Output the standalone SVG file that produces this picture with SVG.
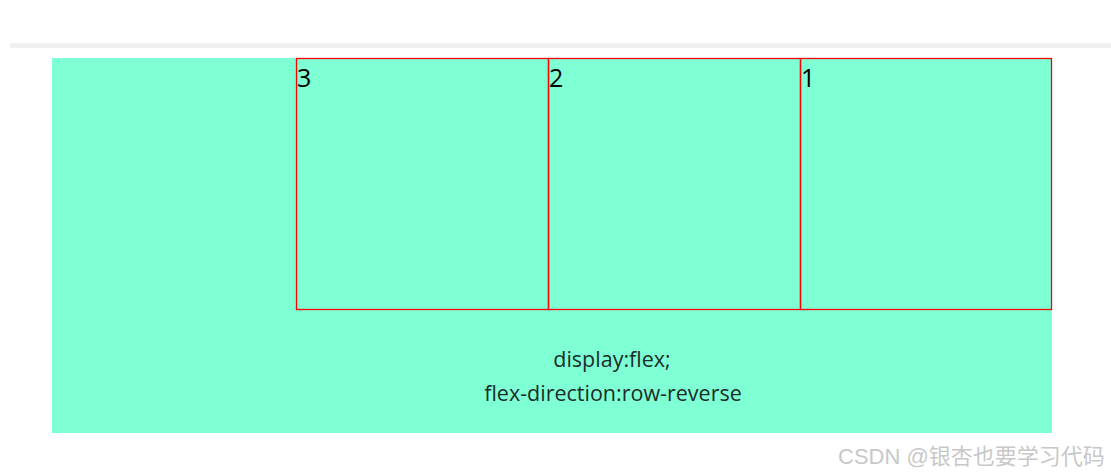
<svg xmlns="http://www.w3.org/2000/svg" width="1111" height="475" viewBox="0 0 1111 475">
<style>
.item{fill:none;stroke:#ff0000;stroke-width:1.3}
.num{font-family:"Open Sans","Noto Sans","DejaVu Sans",sans-serif;font-size:25px;fill:#000}
.label{font-family:"Open Sans","Noto Sans","DejaVu Sans",sans-serif;font-size:21.5px;fill:#1c2e28;text-anchor:middle}
.wm{font-family:"Liberation Sans","Noto Sans CJK SC",sans-serif;font-size:22px;fill:#c8c8c8}
</style>
<rect x="0" y="0" width="1111" height="475" fill="#ffffff"/>
<rect x="10" y="43" width="1101" height="5" fill="#f0f0f0"/>
<g id="container">
<rect x="52" y="58" width="1000" height="375" fill="#7fffd4"/>
</g>
<g id="item3">
<rect class="item" x="296.5" y="58.5" width="252" height="251"/>
<text class="num" x="297" y="87">3</text>
</g>
<g id="item2">
<rect class="item" x="548.5" y="58.5" width="252" height="251"/>
<text class="num" x="549" y="87">2</text>
</g>
<g id="item1">
<rect class="item" x="800.5" y="58.5" width="251" height="251"/>
<text class="num" x="801" y="87">1</text>
</g>
<g id="caption">
<text class="label" x="612" y="367">display:flex;</text>
<text class="label" x="613" y="401">flex-direction:row-reverse</text>
</g>
<g id="connectors"></g>
<text class="wm" x="838" y="464">CSDN @银杏也要学习代码</text>
</svg>
